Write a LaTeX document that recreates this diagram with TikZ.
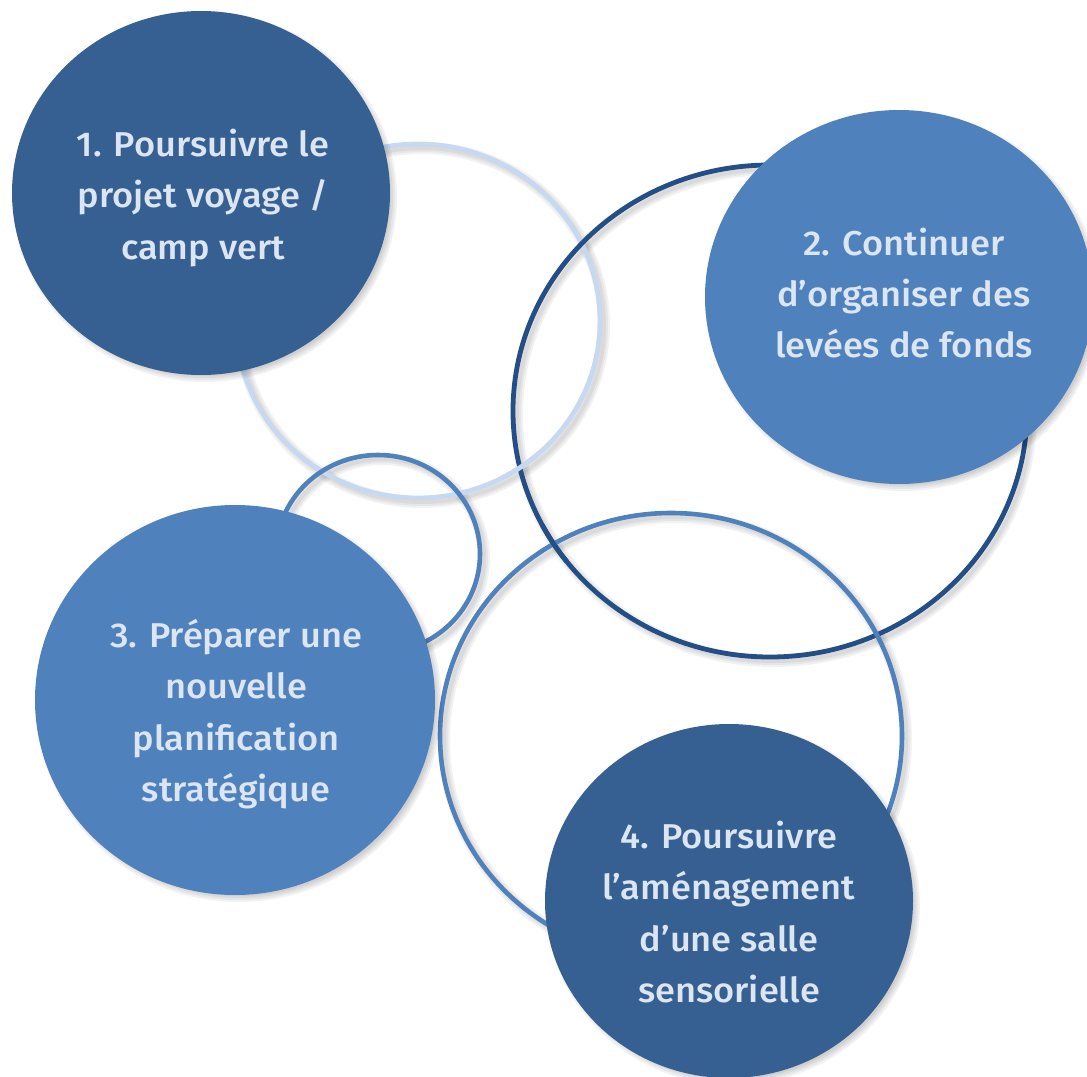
\documentclass[tikz,border=0pt]{standalone}
\usepackage{fontspec}
\setmainfont{Fira Sans Medium}
\definecolor{bubbledeep}{HTML}{376092}
\definecolor{bubblemid}{HTML}{4F81BD}
\definecolor{ringpale}{HTML}{C6D9F1}
\definecolor{ringdeep}{HTML}{234E86}
\definecolor{textpale}{HTML}{DCE6F2}

\begin{document}
\begin{tikzpicture}[x=0.025cm, y=-0.025cm,
    ringpale/.style={draw=ringpale, line width=0.12cm},
    ringdeep/.style={draw=ringdeep, line width=0.12cm},
    ringmid/.style={draw=bubblemid, line width=0.115cm},
    ringshade/.style={draw=black, opacity=0.05},
    bubbletext/.style={text=textpale, align=center, xscale=1.05, transform shape,
                       font=\fontsize{24.5}{36.5}\selectfont}]
  \useasboundingbox (0,0) rectangle (1087,1077);

  % soft shadows under the rings
  \foreach \cx/\cy/\rx/\ry in {418/321/182/177, 770/411/257/246, 378/554/102/99, 671/736/231/223}
    \foreach \w in {0.1,0.2,0.3}
      \draw[ringshade, line width=\w cm] (\cx+4,\cy+4) ellipse [x radius=\rx, y radius=\ry];

  % interlocking rings
  \draw[ringpale] (418,321) ellipse (182 and 177);
  \draw[ringdeep] (770,411) ellipse (257 and 246);
  \begin{scope}
    \clip (521,465) circle (22);
    \draw[ringpale] (418,321) ellipse (182 and 177);
  \end{scope}
  \draw[ringmid] (378,554) ellipse (102 and 99);
  \draw[ringmid] (671,736) ellipse (231 and 223);
  \begin{scope}
    \clip (555,543) circle (22);
    \draw[ringdeep] (770,411) ellipse (257 and 246);
  \end{scope}

  % filled bubbles with shadow
  \foreach \cx/\cy/\rx/\ry/\c in {201/193/189/182/bubbledeep, 899/297/194/187/bubblemid,
                                  235/700/200/195/bubblemid, 729/901/184/177/bubbledeep} {
    \foreach \d in {0,2,4,6}
      \fill[black, opacity=0.05] (\cx+4,\cy+4) ellipse [x radius={\rx+\d-3}, y radius={\ry+\d-3}];
    \fill[\c] (\cx,\cy) ellipse [x radius=\rx, y radius=\ry];
  }

  \node[bubbletext] (t1) at (203,198) {1. Poursuivre le\\projet voyage /\\camp vert};
  \node[bubbletext] (t2) at (904,293) {2. Continuer\\d’organiser des\\levées de fonds};
  \node[bubbletext] (t3) at (236,714) {3. Préparer une\\nouvelle\\planification\\stratégique};
  \node[bubbletext] (t4) at (729,912) {4. Poursuivre\\l’aménagement\\d’une salle\\sensorielle};
\end{tikzpicture}
\end{document}
